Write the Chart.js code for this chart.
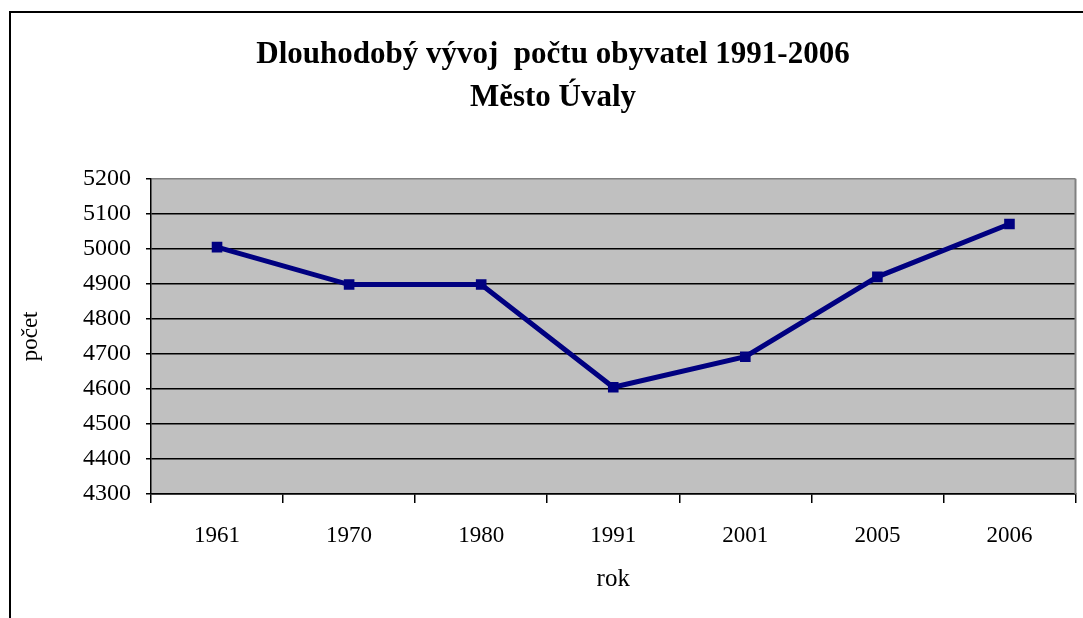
<!DOCTYPE html>
<html>
<head>
<meta charset="utf-8">
<script src="https://cdn.jsdelivr.net/npm/chart.js@4/dist/chart.umd.min.js"></script>
<style>
    html, body { margin: 0; padding: 0; background: #fff; overflow: hidden; }
    #wrap { position: relative; width: 1083px; height: 618px; }
    #frame { position: absolute; left: 9px; top: 11px; width: 1200px; height: 800px; border: 2px solid #000; pointer-events: none; }
</style>
</head>
<body>
<div id="wrap">
    <canvas id="line-js" width="1083" height="618"></canvas>
    <div id="frame"></div>
</div>
<script>
const YEARS = ['1961', '1970', '1980', '1991', '2001', '2005', '2006'];
const POPULATION = [5005, 4898, 4898, 4605, 4692, 4920, 5071];
const TITLE = ['Dlouhodobý vývoj  počtu obyvatel 1991-2006', 'Město Úvaly'];
const Y_MIN = 4300, Y_MAX = 5200, Y_STEP = 100;

const SERIF = '"Liberation Serif", "Times New Roman", serif';

// grey plot area plus the grey right edge, like the old excel chart
const plotBackground = {
    id: 'plotBackground',
    beforeDraw(chart) {
        const { ctx, chartArea: a } = chart;
        ctx.save();
        ctx.fillStyle = '#c0c0c0';
        ctx.fillRect(a.left, a.top, a.right - a.left, a.bottom - a.top);
        ctx.restore();
    },
    afterDatasetsDraw(chart) {
        const { ctx, chartArea: a } = chart;
        ctx.save();
        ctx.strokeStyle = '#808080';
        ctx.lineWidth = 2;
        ctx.beginPath();
        ctx.moveTo(a.right, a.top);
        ctx.lineTo(a.right, a.bottom);
        ctx.stroke();
        ctx.restore();
    }
};

function lineConfig() {
    return {
        type: 'line',
        data: {
            labels: YEARS,
            datasets: [{
                label: 'počet',
                data: POPULATION,
                borderColor: '#000080',
                backgroundColor: '#000080',
                borderWidth: 5,
                pointStyle: 'rect',
                pointRadius: 7.5,
                pointBorderWidth: 0,
                tension: 0
            }]
        },
        options: {
            responsive: false,
            animation: false,
            devicePixelRatio: 1,
            layout: { padding: { left: 28, right: 5, top: 0, bottom: 0 } },
            plugins: {
                legend: { display: false },
                tooltip: { enabled: false },
                title: {
                    display: true,
                    text: TITLE,
                    color: '#000',
                    font: { family: SERIF, size: 31, weight: 'bold', lineHeight: 1.4 },
                    padding: { top: 33, bottom: 59 }
                }
            },
            scales: {
                x: {
                    offset: true,
                    grid: { display: true, offset: true, drawOnChartArea: false, color: '#000', tickLength: 9, lineWidth: 1.5 },
                    border: { color: '#000', width: 1.5 },
                    ticks: { color: '#000', font: { family: SERIF, size: 23 }, padding: 19, maxRotation: 0 },
                    title: {
                        display: true,
                        text: 'rok',
                        color: '#000',
                        font: { family: SERIF, size: 25 },
                        padding: { top: 0, bottom: 24 }
                    },
                    afterFit: (scale) => { scale.height = 124; }
                },
                y: {
                    min: Y_MIN,
                    max: Y_MAX,
                    grid: {
                        color: (c) => c.tick && c.tick.value === Y_MAX ? '#808080' : '#000',
                        lineWidth: 1.5,
                        tickLength: 5,
                        tickColor: '#000'
                    },
                    border: { color: '#000', width: 1.5 },
                    ticks: {
                        stepSize: Y_STEP,
                        color: '#000',
                        font: { family: SERIF, size: 24 },
                        padding: 15,
                        callback: (v) => String(v)
                    },
                    title: {
                        display: true,
                        text: 'počet',
                        color: '#000',
                        font: { family: SERIF, size: 23 },
                        padding: { top: -11, bottom: 0 }
                    },
                    afterFit: (scale) => { scale.width = 123; }
                }
            }
        },
        plugins: [plotBackground]
    };
}

new Chart(document.getElementById('line-js').getContext('2d'), lineConfig());
</script>
</body>
</html>
